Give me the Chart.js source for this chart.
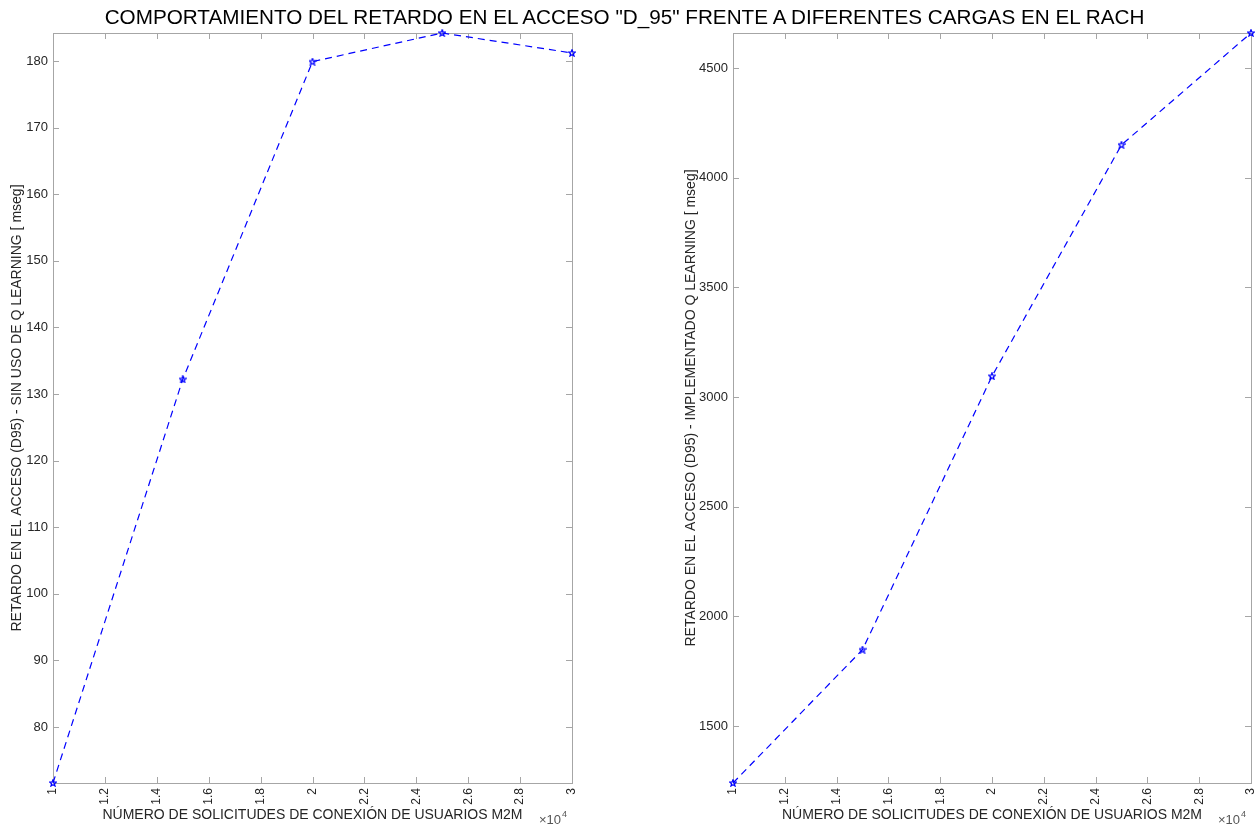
<!DOCTYPE html>
<html>
<head>
<meta charset="utf-8">
<script src="https://cdn.jsdelivr.net/npm/chart.js@4/dist/chart.umd.min.js"></script>
<style>
  body { margin: 0; background: #fff; }
  #wrap { position: relative; width: 1259px; height: 827px; overflow: hidden; }
  #title { position: absolute; left: -5px; top: 5px; width: 1259px; text-align: center;
    font: 20.7px "Liberation Sans", Arial, sans-serif; color: #000; white-space: nowrap; }
  #c1 { position: absolute; left: 0; top: 0; }
  #c2 { position: absolute; left: 620px; top: 0; }
</style>
</head>
<body>
<div id="wrap">
  <canvas id="c1" width="620" height="827"></canvas>
  <canvas id="c2" width="639" height="827"></canvas>
  <div id="title">COMPORTAMIENTO DEL RETARDO EN EL ACCESO "D_95" FRENTE A DIFERENTES CARGAS EN EL RACH</div>
</div>
<script>
// data
const solicitudes = [10000, 15000, 20000, 25000, 30000];
const retardoSinQ = [71.6, 132.2, 179.9, 184.2, 181.2];
const retardoConQ = [1240, 1848, 3095, 4150, 4660];

// tick values
const xTicks = [10000, 12000, 14000, 16000, 18000, 20000, 22000, 24000, 26000, 28000, 30000];
const yTicksLeft = [80, 90, 100, 110, 120, 130, 140, 150, 160, 170, 180];
const yTicksRight = [1500, 2000, 2500, 3000, 3500, 4000, 4500];

const xTitle = "NÚMERO DE SOLICITUDES DE CONEXIÓN DE USUARIOS M2M";
const yTitleLeft = "RETARDO EN EL ACCESO (D95) - SIN USO DE Q LEARNING [ mseg]";
const yTitleRight = "RETARDO EN EL ACCESO (D95) - IMPLEMENTADO Q LEARNING [ mseg]";

const FONT = '"Liberation Sans", Arial, sans-serif';
const TXT = "#262626";
const BOX = "#a6a6a6";

// small unfilled pentagram marker
function pentagram() {
  const c = document.createElement("canvas");
  c.width = 8; c.height = 8;
  const g = c.getContext("2d");
  g.strokeStyle = "#0000ff";
  g.lineWidth = 1.2;
  g.beginPath();
  for (let i = 0; i < 10; i++) {
    const r = i % 2 ? 1.5 : 3.5;
    const a = -Math.PI / 2 + i * Math.PI / 5;
    const px = 4 + r * Math.cos(a), py = 4.2 + r * Math.sin(a);
    i ? g.lineTo(px, py) : g.moveTo(px, py);
  }
  g.closePath();
  g.stroke();
  return c;
}
const marker = pentagram();

const boxPlugin = {
  id: "box",
  beforeDatasetsDraw(chart) {
    const { ctx, chartArea: a, scales } = chart;
    ctx.save();
    ctx.strokeStyle = BOX;
    ctx.lineWidth = 1;
    ctx.beginPath();
    scales.x.ticks.forEach((t) => {
      const px = Math.round(scales.x.getPixelForValue(t.value)) + 0.5;
      ctx.moveTo(px, a.bottom); ctx.lineTo(px, a.bottom - 6);
      ctx.moveTo(px, a.top); ctx.lineTo(px, a.top + 6);
    });
    scales.y.ticks.forEach((t) => {
      const py = Math.round(scales.y.getPixelForValue(t.value)) + 0.5;
      ctx.moveTo(a.left, py); ctx.lineTo(a.left + 6, py);
      ctx.moveTo(a.right, py); ctx.lineTo(a.right - 6, py);
    });
    ctx.stroke();
    ctx.strokeRect(Math.round(a.left) + 0.5, Math.round(a.top) + 0.5,
      Math.round(a.right - a.left), Math.round(a.bottom - a.top));
    ctx.restore();
  },
  afterDraw(chart) {
    // exponent label for the x axis
    const { ctx, chartArea: a } = chart;
    ctx.save();
    ctx.fillStyle = "#555";
    ctx.textBaseline = "alphabetic";
    ctx.textAlign = "left";
    const base = "×10";
    ctx.font = "9px " + FONT;
    const wSup = ctx.measureText("4").width;
    ctx.font = "13px " + FONT;
    const wBase = ctx.measureText(base).width;
    const x0 = a.right - 6 - wSup - wBase;
    ctx.fillText(base, x0, 824);
    ctx.font = "9px " + FONT;
    ctx.fillText("4", x0 + wBase + 1, 817);
    ctx.restore();
  },
};

function makeChart(id, values, yTitle, yOpts, pad) {
  return new Chart(document.getElementById(id), {
    type: "line",
    data: {
      datasets: [{
        data: solicitudes.map((x, i) => ({ x, y: values[i] })),
        borderColor: "#0000ff",
        borderWidth: 1.2,
        borderDash: [7, 5],
        pointStyle: marker,
        pointRadius: 4,
        fill: false,
        tension: 0,
        clip: false,
      }],
    },
    options: {
      responsive: false,
      animation: false,
      devicePixelRatio: 1,
      layout: { padding: pad },
      plugins: { legend: { display: false }, tooltip: { enabled: false } },
      scales: {
        x: {
          type: "linear",
          min: 10000,
          max: 30000,
          grid: { display: false, drawTicks: false },
          border: { display: false },
          afterBuildTicks: (s) => { s.ticks = xTicks.map((v) => ({ value: v })); },
          ticks: {
            maxRotation: 90,
            minRotation: 90,
            padding: 5,
            color: TXT,
            font: { family: FONT, size: 12 },
            callback: (v) => String(Math.round(v / 1000) / 10),
          },
          title: {
            display: true,
            text: xTitle,
            color: TXT,
            font: { family: FONT, size: 14 },
            padding: { top: 0, bottom: 3 },
          },
          afterFit: (s) => {
            s.height = 44;
            s.paddingLeft = 0;
            s.paddingRight = 0;
          },
        },
        y: {
          min: yOpts.min,
          max: yOpts.max,
          grid: { display: false, drawTicks: false },
          border: { display: false },
          afterBuildTicks: (s) => { s.ticks = yOpts.ticks.map((v) => ({ value: v })); },
          ticks: {
            padding: 5,
            color: TXT,
            font: { family: FONT, size: 13 },
            callback: (v) => String(v),
          },
          title: {
            display: true,
            text: yTitle,
            color: TXT,
            font: { family: FONT, size: 14 },
            padding: { top: 0, bottom: 0 },
          },
          afterFit: (s) => {
            s.width = yOpts.width;
            s.paddingTop = 0;
            s.paddingBottom = 0;
          },
        },
      },
    },
    plugins: [boxPlugin],
  });
}

makeChart("c1", retardoSinQ, yTitleLeft,
  { min: 71.6, max: 184.2, ticks: yTicksLeft, width: 44 },
  { left: 9, right: 48, top: 33, bottom: 0 });
makeChart("c2", retardoConQ, yTitleRight,
  { min: 1240, max: 4660, ticks: yTicksRight, width: 50 },
  { left: 63, right: 8, top: 33, bottom: 0 });
</script>
</body>
</html>
